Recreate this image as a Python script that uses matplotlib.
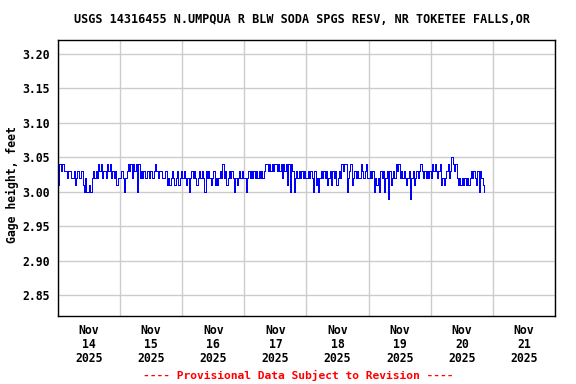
import numpy as np
import pandas as pd
import matplotlib
matplotlib.use('Agg')
import matplotlib.pyplot as plt
import matplotlib.dates as mdates

# gage height readings every 30 min, one digit each: value = 2.99 + d/100
day_codes = [
    "254554434433" "423433421311" "213434354534" "435453434233",  # Nov 14
    "343134545354" "515343433434" "434543443334" "232343234234",  # Nov 15
    "343231343432" "343431434323" "423234353423" "434313234343",  # Nov 16
    "313434343434" "343455454545" "545453545251" "541343434343",  # Nov 17
    "343431423134" "343423424342" "343545513452" "343433543453",  # Nov 18
    "343413231434" "134042343545" "343432340342" "343454343434",  # Nov 19
    "354543452323" "453465453232" "323232343432" "414321",        # Nov 20
]
start_time = "2025-11-14 00:00"
step = "30min"

codes = "".join(day_codes)
gage_ft = [2.99 + int(c) / 100 for c in codes]
times = pd.date_range(start_time, periods=len(gage_ft), freq=step)

title = "USGS 14316455 N.UMPQUA R BLW SODA SPGS RESV, NR TOKETEE FALLS,OR"
ylabel = "Gage height, feet"
footer = "---- Provisional Data Subject to Revision ----"
day_labels = pd.date_range("2025-11-14 12:00", periods=8, freq="D")
yticks = [2.85, 2.90, 2.95, 3.00, 3.05, 3.10, 3.15, 3.20]

mono = "DejaVu Sans Mono"

fig = plt.figure(figsize=(5.76, 3.84), dpi=100)
ax = fig.add_axes([0.1007, 0.1771, 0.8628, 0.7187])

ax.plot(times, gage_ft, color="#0000ff", lw=0.7, drawstyle="steps-post",
        antialiased=False)

ax.set_xlim(pd.Timestamp("2025-11-14"), pd.Timestamp("2025-11-22"))
ax.set_ylim(2.82, 3.22)

ax.set_yticks(yticks)
ax.set_yticklabels([f"{v:.2f}" for v in yticks], fontfamily=mono,
                   fontweight="bold", fontsize=8.3)
ax.set_xticks(day_labels)
ax.set_xticklabels([d.strftime("Nov\n%d\n%Y") for d in day_labels],
                   fontfamily=mono, fontweight="bold", fontsize=8.3,
                   linespacing=1.13)
ax.xaxis.set_minor_locator(mdates.DayLocator())
ax.tick_params(axis="both", which="both", length=0)
ax.tick_params(axis="y", pad=6)
ax.tick_params(axis="x", pad=5.5)

ax.grid(True, which="minor", axis="x", color="#cccccc", lw=1)
ax.grid(True, which="major", axis="y", color="#cccccc", lw=1)
ax.grid(False, which="major", axis="x")
ax.set_axisbelow(True)
for sp in ax.spines.values():
    sp.set_linewidth(1.0)
    sp.set_color("black")

fig.text(0.525, 0.948, title, ha="center", va="center", fontfamily=mono,
         fontweight="bold", fontsize=8.5)
fig.text(0.021, 0.52, ylabel, ha="center", va="center", rotation=90,
         fontfamily=mono, fontweight="bold", fontsize=8.3)
fig.text(0.518, 0.023, footer, ha="center", va="center", fontfamily=mono,
         fontweight="bold", fontsize=8.1, color="red")

fig.savefig("out.png", dpi=100)
